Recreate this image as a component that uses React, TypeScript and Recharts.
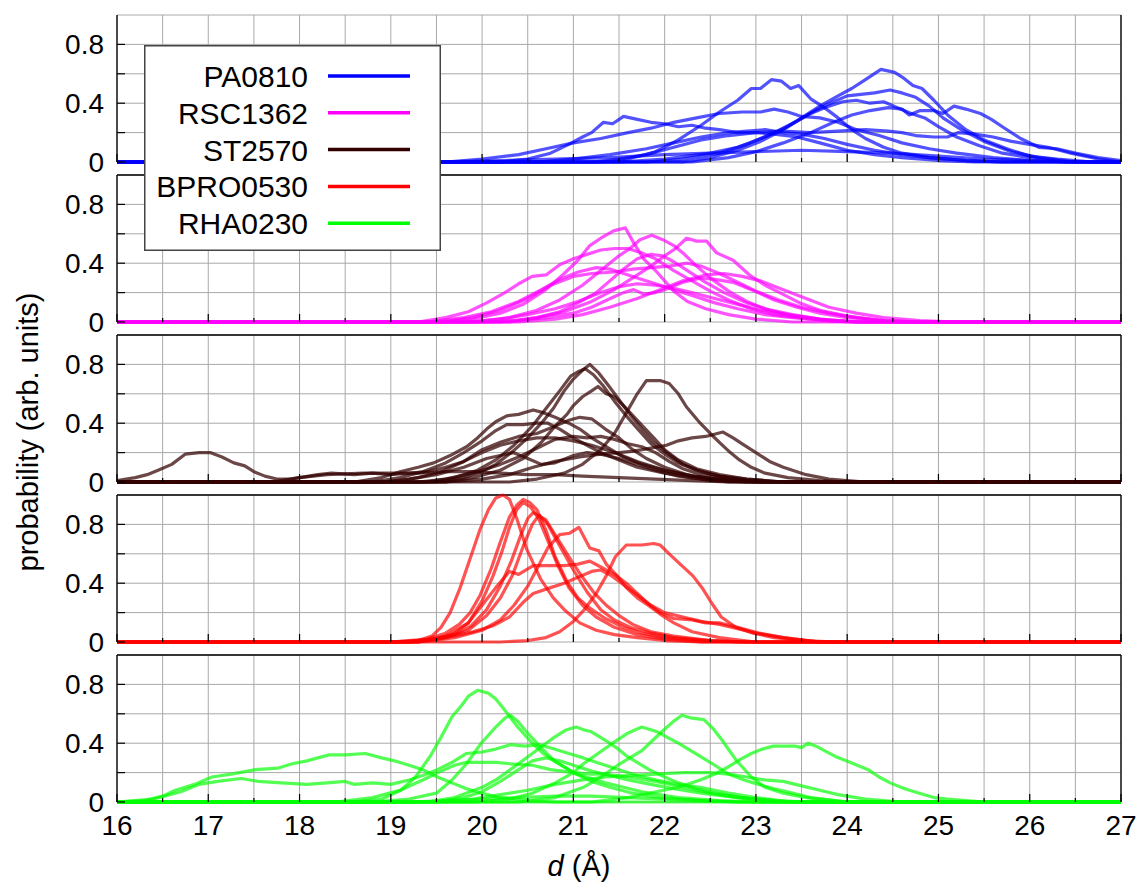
import React from 'react';
import { LineChart, Line, XAxis, YAxis, CartesianGrid, ReferenceLine, Legend } from 'recharts';

type Pt = [number, number];

// d (Å) ticks every half unit, labels on whole numbers
const X_TICKS = [16, 16.5, 17, 17.5, 18, 18.5, 19, 19.5, 20, 20.5, 21, 21.5, 22, 22.5, 23, 23.5, 24, 24.5, 25, 25.5, 26, 26.5, 27];
const Y_TICKS = [0, 0.2, 0.4, 0.6, 0.8];
const Y_LABELED = [0, 0.4, 0.8];

const SERIES_NAMES = ['PA0810', 'RSC1362', 'ST2570', 'BPRO0530', 'RHA0230'];
const SERIES_COLORS = ['#0000ff', '#ff00ff', '#330000', '#ff0000', '#00ff00'];

// each panel: one list of runs, each run a list of [d, probability]
const PA0810_RUNS: Pt[][] = [
  [[20.2, 0], [20.5, 0.02], [20.75, 0.06], [20.95, 0.12], [21.1, 0.17], [21.2, 0.2], [21.33, 0.27], [21.43, 0.26], [21.55, 0.31], [21.7, 0.29], [21.85, 0.27], [22.0, 0.26], [22.15, 0.24], [22.3, 0.25], [22.45, 0.23], [22.6, 0.22], [22.8, 0.2], [23.0, 0.2], [23.2, 0.19], [23.45, 0.17], [23.7, 0.13], [24.0, 0.08], [24.3, 0.05], [24.6, 0.03], [25.0, 0.01], [25.4, 0]],
  [[19.6, 0], [20.0, 0.02], [20.4, 0.05], [20.7, 0.09], [21.0, 0.13], [21.3, 0.16], [21.6, 0.2], [21.85, 0.23], [22.1, 0.27], [22.35, 0.3], [22.6, 0.33], [22.85, 0.34], [23.05, 0.34], [23.2, 0.36], [23.35, 0.34], [23.5, 0.31], [23.7, 0.3], [23.9, 0.27], [24.1, 0.22], [24.35, 0.18], [24.6, 0.13], [24.9, 0.09], [25.2, 0.06], [25.6, 0.03], [26.0, 0.01], [26.4, 0]],
  [[21.3, 0], [21.6, 0.02], [21.9, 0.07], [22.15, 0.15], [22.4, 0.25], [22.6, 0.34], [22.8, 0.42], [22.95, 0.5], [23.05, 0.5], [23.17, 0.56], [23.28, 0.55], [23.38, 0.5], [23.47, 0.52], [23.6, 0.43], [23.75, 0.37], [23.9, 0.3], [24.05, 0.22], [24.2, 0.16], [24.4, 0.1], [24.6, 0.06], [24.9, 0.03], [25.3, 0.01], [25.7, 0]],
  [[22.2, 0], [22.5, 0.03], [22.8, 0.08], [23.05, 0.14], [23.3, 0.22], [23.5, 0.3], [23.7, 0.38], [23.9, 0.45], [24.05, 0.5], [24.2, 0.56], [24.37, 0.63], [24.52, 0.61], [24.62, 0.57], [24.72, 0.52], [24.82, 0.5], [24.95, 0.42], [25.1, 0.32], [25.3, 0.22], [25.5, 0.15], [25.75, 0.09], [26.0, 0.04], [26.3, 0.02], [26.7, 0]],
  [[21.8, 0], [22.2, 0.02], [22.6, 0.06], [22.9, 0.12], [23.2, 0.2], [23.45, 0.28], [23.65, 0.35], [23.85, 0.41], [24.0, 0.45], [24.15, 0.46], [24.3, 0.47], [24.47, 0.49], [24.6, 0.47], [24.75, 0.44], [24.9, 0.38], [25.05, 0.3], [25.25, 0.22], [25.5, 0.14], [25.8, 0.07], [26.1, 0.03], [26.5, 0]],
  [[21.5, 0], [22.0, 0.02], [22.5, 0.06], [22.8, 0.1], [23.1, 0.17], [23.35, 0.24], [23.6, 0.33], [23.8, 0.38], [23.95, 0.41], [24.1, 0.42], [24.25, 0.4], [24.4, 0.41], [24.55, 0.37], [24.7, 0.33], [24.85, 0.3], [25.0, 0.24], [25.2, 0.17], [25.45, 0.11], [25.7, 0.06], [26.0, 0.03], [26.4, 0]],
  [[22.3, 0], [22.7, 0.03], [23.0, 0.07], [23.3, 0.13], [23.6, 0.2], [23.85, 0.27], [24.05, 0.32], [24.25, 0.35], [24.45, 0.37], [24.6, 0.36], [24.68, 0.32], [24.8, 0.35], [24.95, 0.35], [25.05, 0.33], [25.17, 0.38], [25.3, 0.36], [25.46, 0.33], [25.58, 0.29], [25.7, 0.24], [25.9, 0.16], [26.1, 0.1], [26.3, 0.09], [26.5, 0.06], [26.75, 0.03], [27, 0.01]],
  [[21.2, 0], [21.5, 0.02], [21.8, 0.05], [22.1, 0.1], [22.4, 0.15], [22.7, 0.18], [23.0, 0.2], [23.3, 0.21], [23.6, 0.2], [23.9, 0.21], [24.2, 0.22], [24.45, 0.21], [24.6, 0.2], [24.75, 0.18], [24.95, 0.17], [25.1, 0.17], [25.22, 0.2], [25.4, 0.19], [25.6, 0.17], [25.8, 0.14], [26.0, 0.12], [26.2, 0.1], [26.45, 0.06], [26.75, 0.02], [27, 0]],
  [[20.6, 0], [21.0, 0.02], [21.4, 0.05], [21.8, 0.09], [22.1, 0.13], [22.4, 0.17], [22.7, 0.2], [22.9, 0.21], [23.1, 0.22], [23.3, 0.2], [23.5, 0.19], [23.75, 0.16], [24.0, 0.12], [24.3, 0.08], [24.6, 0.05], [24.9, 0.03], [25.3, 0.01], [25.7, 0]],
  [[19.5, 0], [20.2, 0.01], [20.8, 0.02], [21.4, 0.03], [22.0, 0.05], [22.5, 0.06], [23.0, 0.07], [23.5, 0.08], [24.0, 0.07], [24.5, 0.06], [25.0, 0.04], [25.5, 0.02], [26.0, 0.01], [26.5, 0]],
];

const RSC1362_RUNS: Pt[][] = [
  [[19.6, 0], [19.9, 0.02], [20.2, 0.06], [20.45, 0.12], [20.7, 0.22], [20.9, 0.33], [21.05, 0.42], [21.18, 0.52], [21.3, 0.57], [21.44, 0.62], [21.57, 0.64], [21.66, 0.54], [21.77, 0.43], [21.9, 0.35], [22.0, 0.28], [22.1, 0.21], [22.25, 0.14], [22.45, 0.09], [22.7, 0.05], [23.0, 0.02], [23.4, 0]],
  [[19.9, 0], [20.3, 0.03], [20.6, 0.08], [20.85, 0.15], [21.1, 0.25], [21.3, 0.35], [21.5, 0.45], [21.62, 0.5], [21.73, 0.56], [21.86, 0.59], [21.98, 0.56], [22.1, 0.52], [22.2, 0.47], [22.35, 0.38], [22.5, 0.3], [22.7, 0.21], [22.9, 0.14], [23.1, 0.09], [23.4, 0.05], [23.7, 0.02], [24.1, 0]],
  [[20.2, 0], [20.6, 0.03], [20.9, 0.07], [21.2, 0.14], [21.45, 0.22], [21.65, 0.3], [21.85, 0.38], [22.0, 0.45], [22.12, 0.5], [22.24, 0.57], [22.35, 0.55], [22.46, 0.55], [22.57, 0.47], [22.75, 0.42], [22.93, 0.32], [23.1, 0.25], [23.26, 0.2], [23.48, 0.13], [23.7, 0.08], [24.0, 0.04], [24.4, 0.01], [24.8, 0]],
  [[19.3, 0], [19.6, 0.03], [19.85, 0.07], [20.05, 0.13], [20.25, 0.2], [20.4, 0.26], [20.55, 0.31], [20.7, 0.32], [20.85, 0.39], [21.0, 0.43], [21.15, 0.46], [21.3, 0.49], [21.45, 0.5], [21.6, 0.5], [21.75, 0.47], [21.9, 0.43], [22.1, 0.35], [22.3, 0.28], [22.5, 0.21], [22.7, 0.15], [22.95, 0.09], [23.2, 0.05], [23.6, 0.02], [24.0, 0]],
  [[19.5, 0], [19.9, 0.03], [20.2, 0.08], [20.5, 0.16], [20.75, 0.25], [21.0, 0.31], [21.2, 0.33], [21.45, 0.34], [21.65, 0.36], [21.85, 0.37], [22.05, 0.38], [22.25, 0.4], [22.4, 0.38], [22.6, 0.33], [22.8, 0.27], [23.0, 0.21], [23.25, 0.15], [23.5, 0.1], [23.8, 0.06], [24.1, 0.03], [24.5, 0]],
  [[20.0, 0], [20.4, 0.01], [20.7, 0.03], [21.0, 0.06], [21.2, 0.1], [21.44, 0.17], [21.55, 0.2], [21.66, 0.22], [21.77, 0.19], [21.9, 0.2], [22.0, 0.22], [22.2, 0.27], [22.4, 0.3], [22.55, 0.29], [22.75, 0.27], [22.95, 0.22], [23.2, 0.15], [23.45, 0.1], [23.7, 0.06], [24.0, 0.03], [24.4, 0.01], [24.8, 0]],
  [[20.3, 0], [20.6, 0.03], [20.85, 0.07], [21.05, 0.13], [21.25, 0.2], [21.4, 0.28], [21.55, 0.36], [21.7, 0.43], [21.85, 0.46], [21.98, 0.45], [22.1, 0.41], [22.25, 0.35], [22.45, 0.27], [22.65, 0.2], [22.9, 0.13], [23.15, 0.08], [23.4, 0.04], [23.8, 0.01], [24.2, 0]],
  [[19.4, 0], [19.8, 0.03], [20.1, 0.07], [20.4, 0.14], [20.65, 0.22], [20.85, 0.29], [21.05, 0.34], [21.25, 0.37], [21.4, 0.36], [21.55, 0.33], [21.7, 0.3], [21.9, 0.26], [22.1, 0.22], [22.3, 0.18], [22.55, 0.13], [22.8, 0.09], [23.1, 0.05], [23.4, 0.03], [23.8, 0.01], [24.2, 0]],
  [[20.4, 0], [20.8, 0.02], [21.1, 0.05], [21.4, 0.1], [21.7, 0.16], [21.95, 0.22], [22.2, 0.28], [22.45, 0.32], [22.65, 0.33], [22.85, 0.31], [23.05, 0.28], [23.3, 0.22], [23.55, 0.16], [23.8, 0.1], [24.1, 0.06], [24.4, 0.03], [24.8, 0.01], [25.2, 0]],
  [[19.8, 0], [20.2, 0.02], [20.5, 0.05], [20.8, 0.09], [21.05, 0.14], [21.3, 0.2], [21.5, 0.24], [21.7, 0.26], [21.9, 0.25], [22.1, 0.23], [22.3, 0.2], [22.55, 0.16], [22.8, 0.12], [23.05, 0.08], [23.35, 0.05], [23.7, 0.02], [24.1, 0]],
];

const ST2570_RUNS: Pt[][] = [
  [[16.0, 0.01], [16.2, 0.03], [16.33, 0.05], [16.45, 0.08], [16.6, 0.12], [16.75, 0.19], [16.9, 0.2], [17.02, 0.2], [17.15, 0.17], [17.28, 0.13], [17.4, 0.11], [17.5, 0.07], [17.62, 0.04], [17.75, 0.02], [17.9, 0.02], [18.0, 0.03], [18.2, 0.05], [18.35, 0.06], [18.6, 0.05], [18.8, 0.06], [19.0, 0.05], [19.2, 0.06], [19.4, 0.07], [19.6, 0.1], [19.8, 0.14], [20.0, 0.2], [20.2, 0.25], [20.4, 0.28], [20.6, 0.3], [20.8, 0.3], [21.0, 0.28], [21.2, 0.25], [21.45, 0.2], [21.7, 0.14], [22.0, 0.08], [22.3, 0.04], [22.7, 0.01], [23.1, 0]],
  [[18.6, 0], [18.9, 0.03], [19.1, 0.07], [19.3, 0.1], [19.47, 0.13], [19.65, 0.18], [19.83, 0.24], [19.95, 0.3], [20.05, 0.36], [20.15, 0.41], [20.27, 0.45], [20.4, 0.46], [20.56, 0.49], [20.68, 0.47], [20.8, 0.44], [20.95, 0.4], [21.07, 0.36], [21.2, 0.3], [21.36, 0.24], [21.55, 0.17], [21.75, 0.12], [22.0, 0.08], [22.3, 0.04], [22.6, 0.02], [23.0, 0]],
  [[19.5, 0], [19.8, 0.03], [20.0, 0.07], [20.15, 0.12], [20.34, 0.21], [20.5, 0.3], [20.65, 0.4], [20.78, 0.5], [20.9, 0.62], [21.0, 0.7], [21.1, 0.76], [21.18, 0.8], [21.28, 0.74], [21.38, 0.66], [21.5, 0.56], [21.62, 0.46], [21.75, 0.36], [21.88, 0.27], [22.02, 0.2], [22.2, 0.12], [22.4, 0.07], [22.6, 0.04], [22.9, 0.02], [23.3, 0]],
  [[19.4, 0], [19.7, 0.03], [19.95, 0.08], [20.15, 0.15], [20.35, 0.25], [20.55, 0.38], [20.7, 0.5], [20.85, 0.62], [20.97, 0.72], [21.05, 0.75], [21.13, 0.77], [21.22, 0.73], [21.32, 0.66], [21.45, 0.55], [21.58, 0.45], [21.72, 0.35], [21.85, 0.26], [22.0, 0.19], [22.15, 0.13], [22.35, 0.08], [22.6, 0.04], [22.9, 0.01], [23.3, 0]],
  [[19.6, 0], [19.9, 0.03], [20.2, 0.08], [20.45, 0.16], [20.65, 0.27], [20.8, 0.38], [20.93, 0.46], [21.0, 0.52], [21.1, 0.58], [21.2, 0.62], [21.27, 0.65], [21.36, 0.6], [21.45, 0.58], [21.58, 0.5], [21.7, 0.42], [21.85, 0.32], [22.0, 0.22], [22.15, 0.15], [22.35, 0.09], [22.6, 0.05], [22.9, 0.02], [23.3, 0]],
  [[20.3, 0], [20.6, 0.02], [20.9, 0.06], [21.1, 0.12], [21.3, 0.22], [21.45, 0.33], [21.58, 0.47], [21.7, 0.6], [21.8, 0.69], [21.95, 0.69], [22.05, 0.67], [22.15, 0.6], [22.24, 0.51], [22.39, 0.4], [22.5, 0.33], [22.6, 0.27], [22.72, 0.2], [22.82, 0.15], [22.95, 0.1], [23.1, 0.06], [23.35, 0.03], [23.7, 0.01], [24.0, 0]],
  [[19.6, 0], [20.0, 0.02], [20.3, 0.05], [20.56, 0.1], [20.8, 0.14], [21.07, 0.17], [21.3, 0.19], [21.5, 0.2], [21.66, 0.21], [21.85, 0.23], [22.02, 0.25], [22.15, 0.28], [22.3, 0.3], [22.45, 0.31], [22.64, 0.34], [22.75, 0.3], [22.85, 0.26], [23.0, 0.2], [23.15, 0.14], [23.3, 0.1], [23.55, 0.05], [23.8, 0.02], [24.2, 0]],
  [[19.0, 0], [19.3, 0.03], [19.55, 0.07], [19.8, 0.14], [20.0, 0.22], [20.2, 0.27], [20.4, 0.31], [20.6, 0.33], [20.8, 0.38], [20.95, 0.42], [21.07, 0.44], [21.2, 0.43], [21.35, 0.36], [21.5, 0.3], [21.65, 0.22], [21.8, 0.16], [22.0, 0.1], [22.25, 0.05], [22.5, 0.02], [22.9, 0]],
  [[18.8, 0], [19.1, 0.03], [19.35, 0.07], [19.6, 0.13], [19.8, 0.2], [20.0, 0.28], [20.15, 0.35], [20.27, 0.39], [20.45, 0.39], [20.6, 0.4], [20.72, 0.4], [20.85, 0.36], [21.0, 0.3], [21.15, 0.25], [21.3, 0.2], [21.5, 0.15], [21.7, 0.1], [22.0, 0.06], [22.3, 0.03], [22.7, 0]],
  [[19.3, 0], [19.6, 0.02], [19.9, 0.06], [20.2, 0.12], [20.4, 0.17], [20.6, 0.23], [20.8, 0.29], [21.0, 0.31], [21.15, 0.3], [21.3, 0.31], [21.45, 0.29], [21.6, 0.26], [21.75, 0.24], [21.9, 0.2], [22.05, 0.14], [22.2, 0.09], [22.4, 0.05], [22.7, 0.02], [23.1, 0]],
  [[18.9, 0], [19.2, 0.02], [19.5, 0.05], [19.8, 0.1], [20.05, 0.16], [20.34, 0.2], [20.5, 0.16], [20.65, 0.12], [20.8, 0.13], [21.0, 0.18], [21.15, 0.2], [21.3, 0.19], [21.5, 0.16], [21.7, 0.12], [21.9, 0.08], [22.15, 0.04], [22.5, 0.01], [22.9, 0]],
  [[17.7, 0], [18.0, 0.03], [18.3, 0.05], [18.7, 0.06], [19.0, 0.06], [19.3, 0.06], [19.6, 0.07], [19.9, 0.07], [20.2, 0.06], [20.5, 0.05], [20.8, 0.05], [21.1, 0.04], [21.5, 0.03], [21.9, 0.02], [22.3, 0.01], [22.7, 0]],
];

const BPRO0530_RUNS: Pt[][] = [
  [[19.0, 0], [19.3, 0.01], [19.45, 0.04], [19.55, 0.1], [19.65, 0.2], [19.76, 0.37], [19.87, 0.57], [19.98, 0.77], [20.07, 0.9], [20.15, 0.98], [20.23, 1.0], [20.3, 0.97], [20.38, 0.84], [20.49, 0.63], [20.64, 0.43], [20.78, 0.3], [20.9, 0.22], [21.07, 0.13], [21.25, 0.08], [21.45, 0.05], [21.7, 0.03], [22.0, 0.01], [22.4, 0]],
  [[19.0, 0], [19.4, 0.02], [19.6, 0.06], [19.75, 0.12], [19.87, 0.2], [19.98, 0.32], [20.1, 0.5], [20.2, 0.68], [20.3, 0.85], [20.38, 0.93], [20.45, 0.97], [20.52, 0.95], [20.6, 0.9], [20.7, 0.76], [20.8, 0.58], [20.93, 0.41], [21.05, 0.3], [21.18, 0.23], [21.35, 0.16], [21.55, 0.1], [21.75, 0.06], [22.0, 0.03], [22.4, 0.01], [22.8, 0]],
  [[19.1, 0], [19.5, 0.02], [19.7, 0.06], [19.85, 0.13], [20.0, 0.28], [20.12, 0.45], [20.22, 0.62], [20.3, 0.78], [20.38, 0.9], [20.45, 0.95], [20.53, 0.92], [20.62, 0.84], [20.72, 0.69], [20.83, 0.52], [20.95, 0.37], [21.1, 0.25], [21.25, 0.17], [21.45, 0.1], [21.7, 0.05], [22.0, 0.02], [22.4, 0]],
  [[19.2, 0], [19.5, 0.02], [19.7, 0.05], [19.88, 0.11], [20.05, 0.22], [20.2, 0.38], [20.32, 0.55], [20.42, 0.72], [20.5, 0.84], [20.56, 0.88], [20.63, 0.86], [20.72, 0.8], [20.8, 0.71], [20.9, 0.6], [21.0, 0.49], [21.15, 0.34], [21.3, 0.22], [21.45, 0.15], [21.62, 0.1], [21.85, 0.06], [22.1, 0.03], [22.5, 0.01], [22.9, 0]],
  [[19.3, 0], [19.6, 0.03], [19.85, 0.08], [20.05, 0.18], [20.2, 0.3], [20.33, 0.45], [20.45, 0.65], [20.55, 0.8], [20.62, 0.86], [20.7, 0.83], [20.78, 0.75], [20.88, 0.65], [20.98, 0.55], [21.1, 0.44], [21.22, 0.34], [21.36, 0.25], [21.5, 0.18], [21.65, 0.12], [21.85, 0.07], [22.1, 0.04], [22.5, 0.01], [22.9, 0]],
  [[19.3, 0], [19.7, 0.03], [20.0, 0.08], [20.2, 0.15], [20.35, 0.25], [20.5, 0.38], [20.62, 0.52], [20.72, 0.64], [20.85, 0.73], [20.96, 0.74], [21.06, 0.78], [21.18, 0.64], [21.28, 0.62], [21.36, 0.53], [21.48, 0.45], [21.58, 0.37], [21.7, 0.3], [21.82, 0.25], [21.95, 0.19], [22.1, 0.13], [22.3, 0.07], [22.6, 0.03], [23.0, 0]],
  [[20.2, 0], [20.5, 0.01], [20.7, 0.03], [20.85, 0.07], [21.0, 0.14], [21.12, 0.22], [21.25, 0.33], [21.36, 0.45], [21.46, 0.58], [21.58, 0.66], [21.75, 0.66], [21.88, 0.67], [21.95, 0.66], [22.05, 0.6], [22.17, 0.53], [22.31, 0.45], [22.42, 0.36], [22.52, 0.26], [22.62, 0.17], [22.78, 0.1], [22.97, 0.06], [23.2, 0.03], [23.5, 0.01], [23.9, 0]],
  [[19.3, 0], [19.6, 0.04], [19.85, 0.13], [20.0, 0.25], [20.15, 0.37], [20.3, 0.48], [20.4, 0.46], [20.56, 0.52], [20.75, 0.52], [20.9, 0.52], [21.05, 0.53], [21.18, 0.55], [21.3, 0.51], [21.45, 0.46], [21.58, 0.4], [21.7, 0.33], [21.82, 0.26], [21.95, 0.2], [22.1, 0.16], [22.3, 0.15], [22.45, 0.13], [22.6, 0.13], [22.8, 0.1], [23.04, 0.06], [23.3, 0.03], [23.7, 0]],
  [[19.2, 0], [19.6, 0.03], [19.9, 0.07], [20.12, 0.11], [20.3, 0.17], [20.45, 0.27], [20.56, 0.33], [20.75, 0.37], [20.9, 0.4], [21.05, 0.44], [21.2, 0.48], [21.3, 0.49], [21.42, 0.45], [21.55, 0.39], [21.7, 0.32], [21.85, 0.25], [22.0, 0.2], [22.2, 0.17], [22.4, 0.14], [22.6, 0.12], [22.8, 0.09], [23.0, 0.06], [23.3, 0.03], [23.7, 0]],
];

const RHA0230_RUNS: Pt[][] = [
  [[18.6, 0], [18.9, 0.02], [19.11, 0.08], [19.27, 0.17], [19.43, 0.31], [19.55, 0.44], [19.67, 0.58], [19.78, 0.66], [19.85, 0.72], [19.95, 0.76], [20.07, 0.74], [20.15, 0.7], [20.23, 0.64], [20.39, 0.51], [20.55, 0.4], [20.67, 0.33], [20.79, 0.28], [21.03, 0.19], [21.2, 0.16], [21.35, 0.13], [21.55, 0.1], [21.75, 0.07], [22.15, 0.03], [22.6, 0.01], [23.0, 0]],
  [[18.8, 0], [19.2, 0.02], [19.5, 0.06], [19.67, 0.15], [19.83, 0.26], [19.99, 0.4], [20.15, 0.51], [20.25, 0.57], [20.31, 0.59], [20.39, 0.55], [20.47, 0.49], [20.63, 0.38], [20.79, 0.28], [21.03, 0.19], [21.2, 0.14], [21.4, 0.1], [21.65, 0.06], [21.95, 0.03], [22.4, 0.01], [22.8, 0]],
  [[19.4, 0], [19.7, 0.03], [20.0, 0.1], [20.15, 0.15], [20.31, 0.22], [20.55, 0.33], [20.79, 0.44], [20.92, 0.49], [21.03, 0.51], [21.12, 0.49], [21.19, 0.48], [21.35, 0.42], [21.47, 0.37], [21.59, 0.31], [21.83, 0.22], [22.0, 0.17], [22.15, 0.13], [22.35, 0.09], [22.55, 0.06], [22.85, 0.03], [23.3, 0]],
  [[19.9, 0], [20.3, 0.02], [20.55, 0.06], [20.8, 0.13], [21.0, 0.2], [21.11, 0.26], [21.27, 0.33], [21.43, 0.4], [21.6, 0.47], [21.75, 0.51], [21.91, 0.48], [22.03, 0.44], [22.15, 0.4], [22.39, 0.31], [22.55, 0.25], [22.7, 0.19], [22.87, 0.15], [23.03, 0.12], [23.2, 0.09], [23.4, 0.06], [23.6, 0.03], [24.0, 0]],
  [[20.4, 0], [20.8, 0.03], [21.11, 0.1], [21.3, 0.17], [21.51, 0.26], [21.75, 0.35], [21.87, 0.42], [21.99, 0.49], [22.1, 0.55], [22.19, 0.59], [22.3, 0.57], [22.43, 0.56], [22.53, 0.5], [22.63, 0.42], [22.72, 0.34], [22.79, 0.28], [22.95, 0.17], [23.1, 0.1], [23.3, 0.06], [23.55, 0.03], [24.0, 0]],
  [[21.2, 0], [21.6, 0.03], [21.91, 0.07], [22.15, 0.1], [22.39, 0.15], [22.55, 0.19], [22.7, 0.24], [22.83, 0.29], [22.95, 0.33], [23.07, 0.36], [23.19, 0.38], [23.31, 0.38], [23.43, 0.38], [23.5, 0.37], [23.57, 0.4], [23.66, 0.38], [23.75, 0.35], [23.87, 0.31], [23.99, 0.28], [24.11, 0.25], [24.23, 0.22], [24.35, 0.17], [24.47, 0.13], [24.63, 0.09], [24.79, 0.06], [24.95, 0.03], [25.1, 0.02], [25.5, 0]],
  [[16.0, 0], [16.3, 0.01], [16.5, 0.04], [16.64, 0.08], [16.85, 0.12], [17.04, 0.17], [17.25, 0.19], [17.52, 0.22], [17.76, 0.23], [17.92, 0.26], [18.08, 0.28], [18.2, 0.3], [18.32, 0.32], [18.5, 0.32], [18.72, 0.33], [18.9, 0.3], [19.04, 0.28], [19.2, 0.25], [19.35, 0.22], [19.51, 0.17], [19.67, 0.13], [19.83, 0.09], [19.99, 0.06], [20.2, 0.03], [20.5, 0.01], [20.8, 0]],
  [[16.0, 0], [16.4, 0.02], [16.7, 0.07], [16.9, 0.12], [17.1, 0.14], [17.36, 0.16], [17.55, 0.14], [17.8, 0.13], [18.08, 0.12], [18.3, 0.13], [18.5, 0.14], [18.6, 0.12], [18.8, 0.13], [19.0, 0.12], [19.2, 0.15], [19.35, 0.18], [19.51, 0.22], [19.67, 0.27], [19.83, 0.33], [20.0, 0.34], [20.15, 0.36], [20.31, 0.39], [20.47, 0.38], [20.63, 0.39], [20.79, 0.36], [20.95, 0.33], [21.11, 0.3], [21.3, 0.26], [21.5, 0.22], [21.7, 0.18], [21.91, 0.15], [22.15, 0.12], [22.39, 0.1], [22.7, 0.06], [23.0, 0.03], [23.4, 0]],
  [[18.4, 0], [18.8, 0.03], [19.1, 0.08], [19.35, 0.15], [19.55, 0.21], [19.7, 0.25], [19.83, 0.27], [20.0, 0.27], [20.15, 0.27], [20.31, 0.26], [20.55, 0.25], [20.75, 0.22], [21.0, 0.2], [21.2, 0.19], [21.35, 0.19], [21.6, 0.17], [21.9, 0.14], [22.2, 0.1], [22.5, 0.06], [22.8, 0.03], [23.2, 0]],
  [[19.5, 0], [19.9, 0.02], [20.2, 0.05], [20.5, 0.08], [20.8, 0.12], [21.1, 0.15], [21.35, 0.17], [21.6, 0.18], [21.9, 0.19], [22.2, 0.2], [22.5, 0.2], [22.7, 0.19], [22.9, 0.17], [23.1, 0.15], [23.3, 0.14], [23.5, 0.11], [23.7, 0.08], [23.9, 0.05], [24.2, 0.02], [24.6, 0]],
  [[19.5, 0], [19.8, 0.03], [20.0, 0.07], [20.2, 0.14], [20.4, 0.22], [20.55, 0.28], [20.7, 0.3], [20.85, 0.28], [21.0, 0.25], [21.2, 0.21], [21.4, 0.18], [21.6, 0.15], [21.85, 0.12], [22.1, 0.09], [22.4, 0.06], [22.8, 0.03], [23.2, 0.01], [23.6, 0]],
  [[19.2, 0], [19.6, 0.01], [20.0, 0.02], [20.4, 0.03], [20.8, 0.04], [21.2, 0.04], [21.6, 0.03], [22.0, 0.02], [22.4, 0.01], [22.8, 0]],
];

const PANELS = [PA0810_RUNS, RSC1362_RUNS, ST2570_RUNS, BPRO0530_RUNS, RHA0230_RUNS];

const W = 1142;
const PLOT_LEFT = 117;
const PLOT_RIGHT = 1121;
const PANEL_TOP = 15;
const PANEL_H = 147;
const PANEL_STEP = 160;
const FONT = '"Liberation Sans", Arial, Helvetica, sans-serif';

// runs are zero outside what was sampled, so pad to the full d range
function toRows(run: Pt[]) {
  const rows = run.map(([x, y]) => ({ x, y }));
  if (rows[0].x > 16) rows.unshift({ x: 16, y: 0 });
  if (rows[rows.length - 1].x < 27) rows.push({ x: 27, y: 0 });
  return rows;
}

function makeXTick(showLabels: boolean) {
  return (props: any) => {
    const { x, y, payload } = props;
    const major = Number.isInteger(payload.value);
    return (
      <g>
        <line x1={x} x2={x} y1={y} y2={y - (major ? 8 : 4)} stroke="#000" strokeWidth={1.2} />
        {showLabels && major && (
          <text x={x} y={y + 33} textAnchor="middle" fontSize={28} fontFamily={FONT} fill="#000">
            {payload.value}
          </text>
        )}
      </g>
    );
  };
}

function LeftTick(props: any) {
  const { x, y, payload } = props;
  return (
    <g>
      <line x1={x} x2={x + 8} y1={y} y2={y} stroke="#000" strokeWidth={1.2} />
      {Y_LABELED.includes(payload.value) && (
        <text x={x - 13} y={y + 10} textAnchor="end" fontSize={28} fontFamily={FONT} fill="#000">
          {payload.value}
        </text>
      )}
    </g>
  );
}

function RightTick(props: any) {
  const { x, y } = props;
  return <line x1={x} x2={x - 8} y1={y} y2={y} stroke="#000" strokeWidth={1.2} />;
}

function LegendBox() {
  return (
    <svg width={297} height={206} style={{ display: 'block' }}>
      <rect x={0.75} y={0.75} width={295.5} height={204.5} fill="#fff" stroke="#444" strokeWidth={1.5} />
      {SERIES_NAMES.map((name, i) => {
        const cy = 31 + i * 36.8;
        return (
          <g key={name}>
            <text x={164} y={cy + 11} textAnchor="end" fontSize={30} fontFamily={FONT} fill="#000">
              {name}
            </text>
            <line x1={184} x2={266} y1={cy} y2={cy} stroke={SERIES_COLORS[i]} strokeWidth={3.5} />
          </g>
        );
      })}
    </svg>
  );
}

interface PanelProps {
  index: number;
  runs: Pt[][];
  color: string;
}

function Panel({ index, runs, color }: PanelProps) {
  const last = index === PANELS.length - 1;
  const mt = 4;
  const xh = 1;
  const mb = last ? 80 : 22;
  const top = PANEL_TOP + index * PANEL_STEP - mt;
  const height = mt + PANEL_H + xh + mb;
  const opacity = index === 2 ? 0.72 : 0.68;

  return (
    <div style={{ position: 'absolute', left: 0, top, zIndex: 20 - index }}>
      <LineChart width={W} height={height} margin={{ top: mt, right: 0, left: 0, bottom: mb }}>
        <CartesianGrid stroke="#a9a9a9" strokeWidth={1} fill="none" />
        <XAxis
          type="number"
          dataKey="x"
          domain={[16, 27]}
          ticks={X_TICKS}
          interval={0}
          height={xh}
          tickSize={0}
          tickMargin={0}
          tickLine={false}
          axisLine={false}
          tick={makeXTick(last)}
        />
        <YAxis
          type="number"
          domain={[0, 1]}
          ticks={Y_TICKS}
          interval={0}
          width={PLOT_LEFT}
          tickSize={0}
          tickMargin={0}
          tickLine={false}
          axisLine={{ stroke: '#000', strokeWidth: 1.3 }}
          tick={LeftTick}
        />
        <YAxis
          yAxisId="right"
          orientation="right"
          type="number"
          domain={[0, 1]}
          ticks={Y_TICKS}
          interval={0}
          width={W - PLOT_RIGHT}
          tickSize={0}
          tickMargin={0}
          tickLine={false}
          axisLine={{ stroke: '#000', strokeWidth: 1.3 }}
          tick={RightTick}
        />
        {index > 0 && <ReferenceLine y={1} stroke="#000" strokeWidth={1.3} />}
        {runs.map((run, i) => (
          <Line
            key={i}
            data={toRows(run)}
            dataKey="y"
            type="linear"
            stroke={color}
            strokeOpacity={opacity}
            strokeWidth={3.2}
            strokeLinejoin="round"
            dot={false}
            activeDot={false}
            isAnimationActive={false}
          />
        ))}
        {index === 0 && (
          <Legend
            layout="vertical"
            align="center"
            verticalAlign="middle"
            wrapperStyle={{ left: 144, top: 45 - top, width: 297, height: 206, zIndex: 30 }}
            content={() => <LegendBox />}
          />
        )}
      </LineChart>
    </div>
  );
}

export default function App() {
  return (
    <div style={{ position: 'absolute', left: 0, top: 0, width: W, height: 888, background: '#fff', fontFamily: FONT }}>
      {PANELS.map((runs, i) => (
        <Panel key={SERIES_NAMES[i]} index={i} runs={runs} color={SERIES_COLORS[i]} />
      ))}
      <svg width={W} height={888} style={{ position: 'absolute', left: 0, top: 0, pointerEvents: 'none', zIndex: 40 }}>
        <text
          transform="translate(28, 432) rotate(-90)"
          textAnchor="middle"
          dominantBaseline="central"
          fontSize={29}
          fontFamily={FONT}
          fill="#000"
        >
          probability (arb. units)
        </text>
        <text x={579} y={876} textAnchor="middle" fontSize={29} fontFamily={FONT} fill="#000">
          <tspan fontStyle="italic">d</tspan> (Å)
        </text>
      </svg>
    </div>
  );
}
